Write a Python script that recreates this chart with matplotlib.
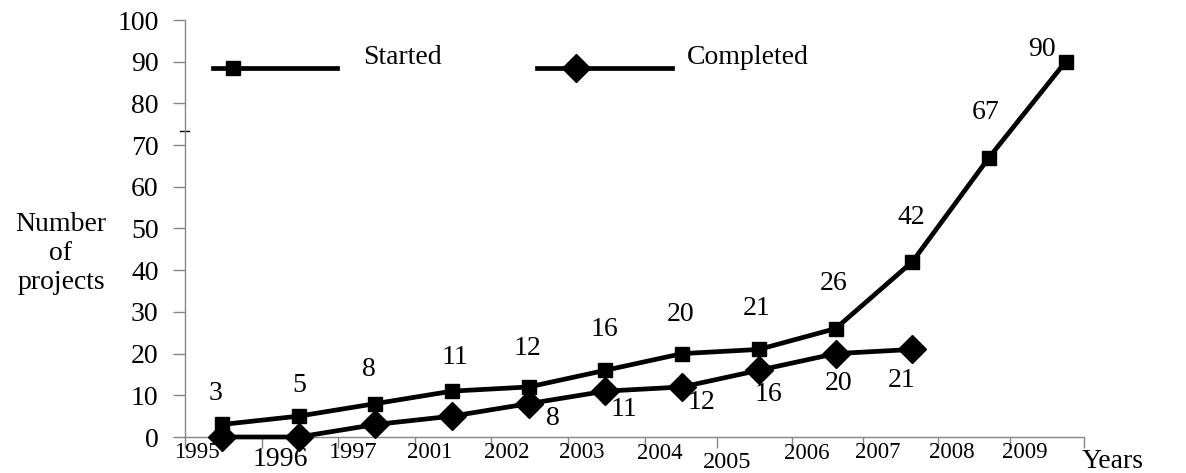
import matplotlib
matplotlib.use("Agg")
import matplotlib.pyplot as plt
from matplotlib.lines import Line2D
import numpy as np

plt.rcParams['font.family'] = ['Liberation Serif', 'DejaVu Serif']

# ---- data ----
years = ["1995", "1996", "1997", "2001", "2002", "2003", "2004",
         "2005", "2006", "2007", "2008", "2009"]
started = [3, 5, 8, 11, 12, 16, 20, 21, 26, 42, 67, 90]
completed = [0, 0, 3, 5, 8, 11, 12, 16, 20, 21]

# ---- layout / style (not data) ----
tick_pos = [-0.482, 0.522, 1.512, 2.516, 3.507, 4.511, 5.515, 6.454,
            7.432, 8.357, 9.335, 10.274, 11.239]
label_pos = [-0.326, 0.756, 1.708, 2.712, 3.716, 4.694, 5.711, 6.584,
             7.627, 8.553, 9.518, 10.469]
label_dy = [-0.037, -0.055, -0.037, -0.037, -0.037, -0.037, -0.04,
            -0.06, -0.04, -0.037, -0.037, -0.037]
label_fs = [16.5, 20, 17.5, 16.5, 16.5, 16.5, 16.5, 17.5, 16.5, 16.5, 16.5, 16.5]
started_off = [(-6, 31), (1, 31), (-6, 34), (3, 34), (-1, 38), (-1, 41),
               (-2, 39), (-2, 41), (-2, 45), (-1, 44), (-3, 45), (-24, 12)]
completed_off = [None, None, None, None, (24, -15), (19, -18), (19, -16),
                 (10, -24), (3, -30), (-11, -31)]

FS = 20
W, H = 1186, 473
fig = plt.figure(figsize=(W / 100, H / 100), dpi=100)
ax = fig.add_axes([185 / W, (H - 437) / H, (1084 - 185) / W, (437 - 20) / H])

gray = '#868686'
x_s = np.arange(len(started))
x_c = np.arange(len(completed))

ax.plot(x_s, started, color='black', lw=3.4, marker='s', ms=10,
        solid_joinstyle='miter', clip_on=False, zorder=3)
ax.plot(x_c, completed, color='black', lw=3.4, marker='D', ms=14,
        clip_on=False, zorder=3)

for x, v, off in zip(x_s, started, started_off):
    ax.annotate(str(v), (x, v), xytext=off, textcoords='offset pixels',
                ha='center', va='center', fontsize=FS)
for x, v, off in zip(x_c, completed, completed_off):
    if off is None:
        continue
    ax.annotate(str(v), (x, v), xytext=off, textcoords='offset pixels',
                ha='center', va='center', fontsize=FS)

ax.set_xlim(tick_pos[0], tick_pos[-1])
ax.set_ylim(0, 100)
ax.set_yticks(np.arange(0, 101, 10))
ax.set_xticks(tick_pos)
ax.set_xticklabels([])
ax.tick_params(axis='y', direction='out', length=9, width=1, color=gray,
               labelsize=FS, pad=10)
ax.tick_params(axis='x', direction='out', length=8, width=1, color=gray)

for s in ['top', 'right']:
    ax.spines[s].set_visible(False)
for s in ['left', 'bottom']:
    ax.spines[s].set_color(gray)
    ax.spines[s].set_linewidth(1)

# year labels
xt = ax.get_xaxis_transform()
for lab, xp, dy, fs in zip(years, label_pos, label_dy, label_fs):
    ax.text(xp, dy, lab, transform=xt, ha='center', va='center',
            fontsize=fs, clip_on=False)
ax.text(11.617, -0.058, "Years", transform=xt, ha='center', va='center',
        fontsize=FS, clip_on=False)

# y axis title
ax.text(-0.138, 0.44, "Number\nof\nprojects", transform=ax.transAxes,
        ha='center', va='center', fontsize=FS, linespacing=1.2)

# axis break mark
yt = ax.get_yaxis_transform()
ax.add_line(Line2D([-0.006, 0.005], [73.5, 73.5], transform=yt,
                   color='black', lw=1, clip_on=False))

# legend (manual)
ta = ax.transAxes
for (x0, x1, xm, mk, ms, lab, xt_) in [
        (0.031, 0.169, 0.053, 's', 10, "Started", 0.198),
        (0.391, 0.542, 0.435, 'D', 14, "Completed", 0.558)]:
    ax.add_line(Line2D([x0, x1], [0.885, 0.885], transform=ta, color='black',
                       lw=3.4, clip_on=False))
    ax.add_line(Line2D([xm], [0.885], transform=ta, color='black',
                       marker=mk, ms=ms, lw=0, clip_on=False))
    ax.text(xt_, 0.909, lab, transform=ta, ha='left', va='center',
            fontsize=FS)

fig.savefig("out.png", dpi=100)
